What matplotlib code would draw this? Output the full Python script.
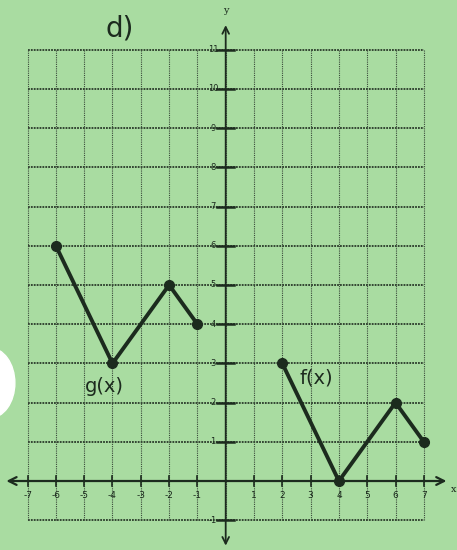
import matplotlib
matplotlib.use("Agg")
import matplotlib.pyplot as plt
from matplotlib.patches import Circle

# Data
g_x = [-6, -4, -2, -1]
g_y = [6, 3, 5, 4]
f_x = [2, 4, 6, 7]
f_y = [3, 0, 2, 1]
x_ticks = [-7, -6, -5, -4, -3, -2, -1, 1, 2, 3, 4, 5, 6, 7]
y_ticks = [-1, 1, 2, 3, 4, 5, 6, 7, 8, 9, 10, 11]
x_tick_labels = ["-7", "-6", "-5", "-4", "-3", "-2", "-1", "1", "2", "3", "4", "5", "6", "7"]
y_tick_labels = ["-1", "1", "2", "3", "4", "5", "6", "7", "8", "9", "10", "11"]

bg = "#a9dca1"
ink = "#1c2b1e"

fig = plt.figure(figsize=(4.57, 5.5), dpi=100, facecolor=bg)
ax = fig.add_axes([0, 0, 1, 1])
ax.set_facecolor(bg)
ax.set_xlim(-7.975, 8.173)
ax.set_ylim(-1.76, 12.27)
ax.axis("off")

# grid
for yv in range(-1, 12):
    ax.plot([-7, 7], [yv, yv], color="#2a3a2a", lw=1.3, ls=(0, (1, 0.6)), zorder=1)
for xv in range(-7, 8):
    ax.plot([xv, xv], [-1, 11], color="#3a4a3a", lw=0.8, ls=(0, (1, 1)), zorder=1)

# axes with arrows
ax.annotate("", xy=(7.9, 0), xytext=(-7.85, 0),
            arrowprops=dict(arrowstyle="<->", color=ink, lw=1.6, mutation_scale=14), zorder=3)
ax.annotate("", xy=(0, 11.7), xytext=(0, -1.72),
            arrowprops=dict(arrowstyle="<->", color=ink, lw=1.3, mutation_scale=12), zorder=3)
ax.text(0, 12.0, "y", ha="center", va="center", fontsize=7, color=ink, family="DejaVu Serif")
ax.text(8.06, -0.22, "x", ha="center", va="center", fontsize=7, color=ink, family="DejaVu Serif")

# ticks
for xv, lab in zip(x_ticks, x_tick_labels):
    ax.plot([xv, xv], [-0.12, 0.12], color=ink, lw=1.2, zorder=3)
    ax.text(xv, -0.38, lab, ha="center", va="center", fontsize=6.5, color=ink)
for yv, lab in zip(y_ticks, y_tick_labels):
    ax.plot([-0.3, 0.3], [yv, yv], color=ink, lw=1.8, zorder=3)
    ax.text(-0.45, yv, lab, ha="center", va="center", fontsize=6, color=ink)

# functions
ax.plot(g_x, g_y, color=ink, lw=2.8, marker="o", ms=7, zorder=4, solid_capstyle="round")
ax.plot(f_x, f_y, color=ink, lw=2.8, marker="o", ms=7, zorder=4, solid_capstyle="round")

ax.text(-4.27, 2.42, "g(x)", ha="center", va="center", fontsize=14, color=ink)
ax.text(3.2, 2.63, "f(x)", ha="center", va="center", fontsize=14, color=ink)
ax.text(-3.73, 11.55, "d)", ha="center", va="center", fontsize=20, color=ink)

# hole punch
ax.add_patch(Circle((-8.35, 2.5), 0.9, transform=ax.transData, color="white", zorder=5))

fig.savefig("out.png", dpi=100, facecolor=bg)
